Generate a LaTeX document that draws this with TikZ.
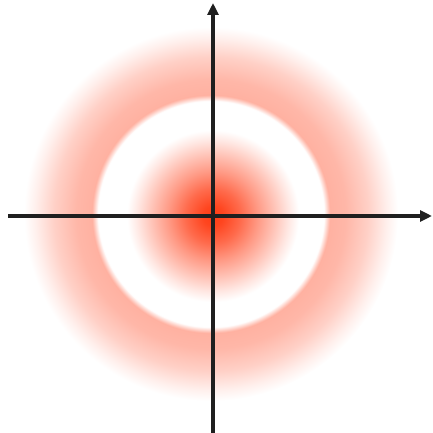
\documentclass[tikz,border=0pt]{standalone}
\usepackage{xcolor}
\usetikzlibrary{arrows.meta}

\definecolor{glow}{RGB}{255,60,20}
% path edge sits at 25bp of the shading
\pgfdeclareradialshading{coreglow}{\pgfpoint{0bp}{0bp}}{color(0bp)=(glow); color(3bp)=(glow!95!white); color(8bp)=(glow!76!white); color(13bp)=(glow!52!white); color(18bp)=(glow!30!white); color(22bp)=(glow!12!white); color(25bp)=(white); color(50bp)=(white)}
\pgfdeclareradialshading{ringglow}{\pgfpoint{0bp}{0bp}}{color(0bp)=(white); color(15.1bp)=(white); color(15.9bp)=(glow!40!white); color(18bp)=(glow!37!white); color(21bp)=(glow!24!white); color(23.5bp)=(glow!8!white); color(25bp)=(white); color(50bp)=(white)}

\begin{document}
\begin{tikzpicture}[
  x=1pt, y=-1pt,
  >={Triangle[length=12pt,width=11pt]},
  axis/.style={->, line width=3.4pt, black!88},
  ring/.style={shading=ringglow},
  core/.style={shading=coreglow}
]
  \useasboundingbox (0,0) rectangle (432,433);

  % glows
  \shade[ring] (211,214) circle[radius=187];
  \shade[core] (213,216) circle[radius=86];

  % axes
  \coordinate (xstart) at (8,216);
  \coordinate (xend)   at (432,216);
  \coordinate (ystart) at (213,433);
  \coordinate (yend)   at (213,3);
  \draw[axis] (xstart) -- (xend);
  \draw[axis] (ystart) -- (yend);
\end{tikzpicture}
\end{document}
